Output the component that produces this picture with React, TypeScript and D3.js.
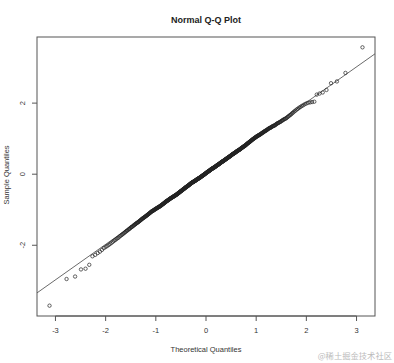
import React from "react";
import * as d3 from "d3";

// ---- data (sample values) ----
const sampleLowerTail = [-3.70, -2.95, -2.88, -2.68, -2.66, -2.55, -2.31, -2.27, -2.22, -2.18, -2.13, -2.08];
const sampleLowerBand = [
  -2.05, -2.02, -1.99,
  -1.96, -1.93, -1.90, -1.87,
  -1.85, -1.82, -1.80, -1.78, -1.75,
  -1.73, -1.71, -1.69, -1.67, -1.65, -1.63,
  -1.61, -1.59, -1.58, -1.56, -1.54, -1.53, -1.51,
  -1.49, -1.48, -1.47, -1.45, -1.44, -1.42, -1.41, -1.40,
  -1.38, -1.37, -1.36, -1.35, -1.34, -1.32, -1.31, -1.30, -1.29,
  -1.27, -1.26, -1.25, -1.24, -1.23, -1.22, -1.21, -1.20, -1.19, -1.18,
  -1.17, -1.16, -1.15, -1.14, -1.13, -1.12, -1.11, -1.10, -1.09, -1.08, -1.07,
  -1.06, -1.05, -1.04, -1.04, -1.03, -1.02, -1.02, -1.01, -1.00, -0.99, -0.99, -0.98, -0.97,
  -0.97, -0.96, -0.95, -0.95, -0.94, -0.93, -0.93, -0.92, -0.92, -0.91, -0.90, -0.90, -0.89, -0.88,
  -0.88, -0.87, -0.86, -0.85, -0.85, -0.84, -0.83, -0.83, -0.82, -0.81, -0.80, -0.80, -0.79, -0.78, -0.77,
  -0.77, -0.76, -0.76, -0.75, -0.74, -0.74, -0.73, -0.73, -0.72, -0.71, -0.71, -0.70, -0.70, -0.69, -0.68, -0.68, -0.67,
  -0.67, -0.66, -0.66, -0.65, -0.65, -0.64, -0.64, -0.63, -0.63, -0.62, -0.62, -0.61, -0.61, -0.60, -0.60, -0.59, -0.59, -0.58,
  -0.58, -0.57, -0.57, -0.56, -0.55, -0.55, -0.54, -0.54, -0.53, -0.53, -0.52, -0.51, -0.51, -0.50, -0.50, -0.49, -0.48, -0.48, -0.47,
  -0.47, -0.46, -0.46, -0.45, -0.45, -0.44, -0.43, -0.43, -0.42, -0.42, -0.41, -0.41, -0.40, -0.40, -0.39, -0.38, -0.38, -0.37, -0.37, -0.36,
  -0.36, -0.35, -0.35, -0.34, -0.34, -0.33, -0.33, -0.32, -0.32, -0.31, -0.31, -0.30, -0.30, -0.29, -0.28, -0.28, -0.27, -0.27, -0.26, -0.26, -0.25,
  -0.25, -0.24, -0.24, -0.23, -0.23, -0.23, -0.22, -0.22, -0.21, -0.21, -0.21, -0.20, -0.20, -0.19, -0.19, -0.19, -0.18, -0.18, -0.17, -0.17, -0.16,
  -0.16, -0.15, -0.15, -0.14, -0.14, -0.14, -0.13, -0.13, -0.12, -0.12, -0.12, -0.11, -0.11, -0.10, -0.10, -0.10, -0.09, -0.09, -0.08, -0.08, -0.07,
  -0.07, -0.06, -0.06, -0.05, -0.05, -0.04, -0.04, -0.03, -0.03, -0.03, -0.02, -0.02, -0.01, -0.01, 0.00, 0.00, 0.01, 0.01, 0.02, 0.02, 0.03,
];
const sampleUpperBand = [
  0.03, 0.04, 0.04, 0.05, 0.05, 0.06, 0.06, 0.07, 0.07, 0.07, 0.08, 0.08, 0.09, 0.09, 0.10, 0.10, 0.11, 0.11, 0.12, 0.12, 0.13,
  0.13, 0.14, 0.14, 0.15, 0.15, 0.15, 0.16, 0.16, 0.17, 0.17, 0.17, 0.18, 0.18, 0.19, 0.19, 0.19, 0.20, 0.20, 0.21, 0.21, 0.22,
  0.22, 0.23, 0.23, 0.24, 0.24, 0.25, 0.25, 0.26, 0.26, 0.26, 0.27, 0.27, 0.28, 0.28, 0.29, 0.29, 0.30, 0.30, 0.31, 0.31, 0.32,
  0.32, 0.33, 0.33, 0.34, 0.34, 0.35, 0.35, 0.36, 0.36, 0.36, 0.37, 0.37, 0.38, 0.38, 0.39, 0.39, 0.40, 0.40, 0.41, 0.41, 0.42,
  0.42, 0.43, 0.43, 0.44, 0.44, 0.45, 0.45, 0.46, 0.46, 0.47, 0.47, 0.48, 0.48, 0.49, 0.49, 0.50, 0.50, 0.51, 0.51, 0.52,
  0.52, 0.53, 0.54, 0.54, 0.55, 0.55, 0.56, 0.56, 0.57, 0.57, 0.58, 0.58, 0.59, 0.59, 0.60, 0.60, 0.61, 0.61, 0.62,
  0.62, 0.63, 0.64, 0.64, 0.65, 0.65, 0.66, 0.66, 0.67, 0.67, 0.68, 0.68, 0.69, 0.69, 0.70, 0.70, 0.71, 0.72,
  0.72, 0.73, 0.74, 0.74, 0.75, 0.75, 0.76, 0.77, 0.77, 0.78, 0.78, 0.79, 0.80, 0.80, 0.81, 0.81, 0.82,
  0.83, 0.84, 0.85, 0.85, 0.86, 0.87, 0.88, 0.88, 0.89, 0.90, 0.90, 0.91, 0.92, 0.93, 0.93,
  0.94, 0.95, 0.96, 0.97, 0.97, 0.98, 0.99, 1.00, 1.00, 1.01, 1.02, 1.03, 1.03, 1.04,
  1.05, 1.06, 1.06, 1.07, 1.08, 1.08, 1.09, 1.10, 1.10, 1.11, 1.12, 1.12, 1.13,
  1.14, 1.15, 1.16, 1.17, 1.17, 1.18, 1.19, 1.20, 1.21, 1.22, 1.22,
  1.23, 1.24, 1.25, 1.26, 1.27, 1.28, 1.29, 1.30, 1.30, 1.31,
  1.32, 1.33, 1.34, 1.35, 1.36, 1.36, 1.37, 1.38, 1.39,
  1.41, 1.42, 1.43, 1.44, 1.45, 1.46, 1.47, 1.48,
  1.50, 1.51, 1.52, 1.54, 1.55, 1.56, 1.57,
  1.59, 1.61, 1.63, 1.65, 1.67, 1.69,
  1.72, 1.74, 1.77, 1.79, 1.82,
  1.84, 1.87, 1.89, 1.92,
  1.94, 1.97, 1.99,
];
const sampleUpperTail = [2.01, 2.02, 2.03, 2.04, 2.24, 2.27, 2.30, 2.37, 2.56, 2.61, 2.85, 3.57];

const xTicks = [-3, -2, -1, 0, 1, 2, 3];
const yTicks = [-2, 0, 2];
const titleText = "Normal Q-Q Plot";
const xLabel = "Theoretical Quantiles";
const yLabel = "Sample Quantiles";
const watermark = "@稀土掘金技术社区";

// inverse standard normal CDF (Acklam)
function qnorm(p: number): number {
  const a = [-3.969683028665376e1, 2.209460984245205e2, -2.759285104469687e2, 1.38357751867269e2, -3.066479806614716e1, 2.506628277459239];
  const b = [-5.447609879822406e1, 1.615858368580409e2, -1.556989798598866e2, 6.680131188771972e1, -1.328068155288572e1];
  const c = [-7.784894002430293e-3, -3.223964580411365e-1, -2.400758277161838, -2.549732539343734, 4.374664141464968, 2.938163982698783];
  const d = [7.784695709041462e-3, 3.224671290700398e-1, 2.445134137142996, 3.754408661907416];
  const pl = 0.02425;
  if (p < pl) {
    const q = Math.sqrt(-2 * Math.log(p));
    return (((((c[0] * q + c[1]) * q + c[2]) * q + c[3]) * q + c[4]) * q + c[5]) / ((((d[0] * q + d[1]) * q + d[2]) * q + d[3]) * q + 1);
  }
  if (p > 1 - pl) {
    const q = Math.sqrt(-2 * Math.log(1 - p));
    return -(((((c[0] * q + c[1]) * q + c[2]) * q + c[3]) * q + c[4]) * q + c[5]) / ((((d[0] * q + d[1]) * q + d[2]) * q + d[3]) * q + 1);
  }
  const q = p - 0.5;
  const r = q * q;
  return (((((a[0] * r + a[1]) * r + a[2]) * r + a[3]) * r + a[4]) * r + a[5]) * q / (((((b[0] * r + b[1]) * r + b[2]) * r + b[3]) * r + b[4]) * r + 1);
}

export default function App() {
  const W = 394, H = 363;
  const left = 37, right = 375, top = 37, bottom = 316;

  const sample = d3.sort([...sampleLowerTail, ...sampleLowerBand, ...sampleUpperBand, ...sampleUpperTail]);
  const n = sample.length;
  const pts = sample.map((y, i) => ({ x: qnorm((i + 1 - 0.5) / n), y }));

  const ext = (e: [number, number]): [number, number] => {
    const r = e[1] - e[0];
    return [e[0] - 0.04 * r, e[1] + 0.04 * r];
  };
  const xs = d3.scaleLinear().domain(ext(d3.extent(pts, (p) => p.x) as [number, number])).range([left, right]);
  const ys = d3.scaleLinear().domain(ext(d3.extent(pts, (p) => p.y) as [number, number])).range([bottom, top]);

  // qqline through quartiles
  const yq1 = d3.quantile(sample, 0.25)!, yq3 = d3.quantile(sample, 0.75)!;
  const xq1 = qnorm(0.25), xq3 = qnorm(0.75);
  const slope = (yq3 - yq1) / (xq3 - xq1);
  const intercept = yq1 - slope * xq1;
  const [dx0, dx1] = xs.domain();
  const lineGen = d3.line<number>().x((x) => xs(x)).y((x) => ys(intercept + slope * x));

  const font = "'Liberation Sans', Arial, sans-serif";
  const textColor = "#333";

  return (
    <svg width={W} height={H} style={{ position: "absolute", left: 0, top: 0, background: "#fff" }} fontFamily={font}>
      <defs>
        <clipPath id="plotclip">
          <rect x={left} y={top} width={right - left} height={bottom - top} />
        </clipPath>
      </defs>
      <text x={206} y={23} textAnchor="middle" fontSize={9} fontWeight="bold" fill="#222">{titleText}</text>

      <path d={lineGen([dx0, dx1]) || ""} stroke="#444" strokeWidth={0.8} fill="none" clipPath="url(#plotclip)" />

      <g fill="none" stroke="#222" strokeWidth={0.7}>
        {pts.map((p, i) => (
          <circle key={i} cx={xs(p.x)} cy={ys(p.y)} r={1.7} />
        ))}
      </g>

      <rect x={left} y={top} width={right - left} height={bottom - top} fill="none" stroke="#555" strokeWidth={1} />

      {/* x axis */}
      <g>
        <line x1={xs(xTicks[0])} x2={xs(xTicks[xTicks.length - 1])} y1={bottom} y2={bottom} stroke="#555" />
        {xTicks.map((t) => (
          <g key={t}>
            <line x1={xs(t)} x2={xs(t)} y1={bottom} y2={bottom + 5} stroke="#555" />
            <text x={xs(t)} y={333} textAnchor="middle" fontSize={7.5} fill={textColor}>{t}</text>
          </g>
        ))}
      </g>
      {/* y axis */}
      <g>
        {yTicks.map((t) => (
          <g key={t}>
            <line x1={left - 5} x2={left} y1={ys(t)} y2={ys(t)} stroke="#555" />
            <text transform={`translate(25,${ys(t)}) rotate(-90)`} textAnchor="middle" fontSize={7.5} fill={textColor}>{t}</text>
          </g>
        ))}
      </g>

      <text x={206} y={352} textAnchor="middle" fontSize={7.5} fill={textColor}>{xLabel}</text>
      <text transform={`translate(9,175) rotate(-90)`} textAnchor="middle" fontSize={7.5} fill={textColor}>{yLabel}</text>

      <text x={392} y={359} textAnchor="end" fontSize={8.3} fill="#bbb" fontFamily="'Noto Sans CJK SC', sans-serif">{watermark}</text>
    </svg>
  );
}
